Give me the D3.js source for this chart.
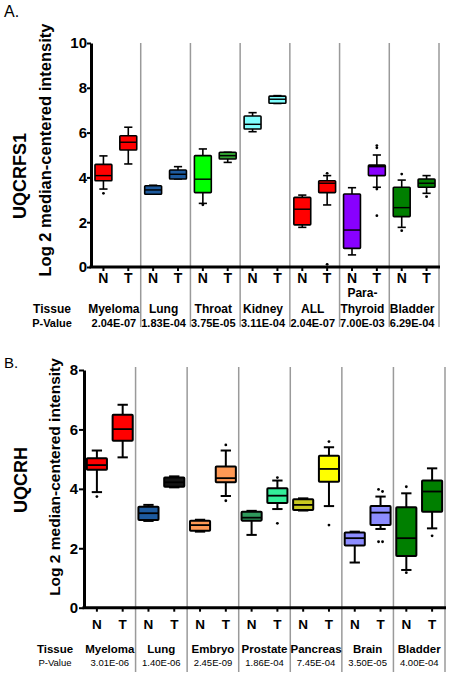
<!DOCTYPE html>
<html><head><meta charset="utf-8">
<script src="https://cdn.jsdelivr.net/npm/d3@7"></script>
<style>
html,body{margin:0;padding:0;background:#fff;}
svg{display:block;font-family:"Liberation Sans",Arial,sans-serif;}
</style></head>
<body><svg id="c" width="450" height="677"></svg>
<script>
// ---------- Panel A data (UQCRFS1) ----------
const tissuesA = ["Myeloma","Lung","Throat","Kidney","ALL","Para-|Thyroid","Bladder"];
const pvaluesA = ["2.04E-07","1.83E-04","3.75E-05","3.11E-04","2.04E-07","7.00E-03","6.29E-04"];
const groupsA  = ["N","T","N","T","N","T","N","T","N","T","N","T","N","T"];
const lowA  = [3.48,4.60,3.27,3.93,2.84,4.67,6.04,7.30,1.77,2.77,0.54,3.56,1.77,3.29];
const q1A   = [3.85,5.22,3.25,3.93,3.32,4.82,6.16,7.31,1.88,3.32,0.83,4.08,2.25,3.56];
const medA  = [4.08,5.57,3.44,4.14,3.92,4.97,6.37,7.49,2.58,3.74,1.65,4.48,2.65,3.74];
const q3A   = [4.58,5.86,3.63,4.33,4.97,5.12,6.74,7.63,3.11,3.85,3.26,4.55,3.56,3.93];
const highA = [4.96,6.24,3.65,4.48,5.27,5.12,6.89,7.65,3.21,4.08,3.54,5.00,3.88,4.08];
const outIdxA = [0,4,9,9,11,11,11,11,12,12,13];
const outValA = [3.29,2.78,4.18,0.12,5.42,5.32,3.48,2.29,4.15,1.62,3.14];
const yTicksA = [0,2,4,6,8,10];
const colorsA = ["#ff0000","#ff0000","#1d5a9e","#1d5a9e","#00ff00","#30a030","#80ffff","#80ffff",
                 "#ff0000","#ff0000","#8800ff","#8800ff","#007f00","#007f00"];

// ---------- Panel B data (UQCRH) ----------
const tissuesB = ["Myeloma","Lung","Embryo","Prostate","Pancreas","Brain","Bladder"];
const pvaluesB = ["3.01E-06","1.40E-06","2.45E-09","1.86E-04","7.45E-04","3.50E-05","4.00E-04"];
const groupsB  = ["N","T","N","T","N","T","N","T","N","T","N","T","N","T"];
const lowB  = [3.89,5.06,2.92,4.05,2.56,3.76,2.45,3.32,3.27,3.42,1.52,2.65,1.27,2.67];
const q1B   = [4.64,5.62,2.95,4.07,2.59,4.22,2.93,3.52,3.29,4.24,2.09,2.78,1.74,3.23];
const medB  = [4.80,6.01,3.18,4.22,2.78,4.36,3.03,3.77,3.46,4.67,2.34,3.20,2.34,3.91];
const q3B   = [5.03,6.49,3.40,4.38,2.93,4.75,3.23,4.02,3.65,5.11,2.53,3.42,3.38,4.28];
const highB = [5.29,6.83,3.46,4.42,2.96,5.29,3.26,4.28,3.68,5.40,2.56,3.74,3.85,4.69];
const outIdxB = [0,5,5,7,7,9,9,11,11,11,11,12,12,13];
const outValB = [3.74,5.48,3.60,4.38,2.84,5.59,2.78,3.98,3.91,2.22,2.22,4.07,1.18,2.42];
const yTicksB = [0,2,4,6,8];
const colorsB = ["#ff0000","#ff0000","#1d5a9e","#151515","#ff9955","#ff9955","#2f9a5c","#33ee99",
                 "#c8c820","#ffff00","#8c8cff","#8c8cff","#007f00","#007f00"];

const svg = d3.select("#c");
svg.append("rect").attr("width",450).attr("height",677).attr("fill","#fff");

function drawPanel(p){
  const n = p.groups.length;
  const x = d3.scaleBand().domain(d3.range(n)).range([p.x0, p.x1]).paddingInner(0).paddingOuter(0);
  const y = d3.scaleLinear().domain([0, d3.max(p.ticks)]).range([p.yBottom, p.yTop]);
  const g = svg.append("g");
  const step = x.step(), bw = x.bandwidth();
  const cx = i => x(i) + bw/2;

  // separators
  const nGroups = p.tissues.length;
  for (let k = 1; k <= nGroups; k++) {
    const sx = p.x0 + k*2*step;
    g.append("line").attr("x1",sx).attr("x2",sx).attr("y1",p.sepTop).attr("y2",p.sepBottom)
      .attr("stroke","#9a9a9a").attr("stroke-width",1.5);
  }

  // boxes
  const boxW = step*p.boxFrac, capW = step*p.capFrac;
  d3.range(n).forEach(i => {
    const c = cx(i);
    const bg = g.append("g");
    bg.append("line").attr("x1",c).attr("x2",c).attr("y1",y(p.low[i])).attr("y2",y(p.high[i]))
      .attr("stroke","#000").attr("stroke-width",p.sw);
    [p.low[i], p.high[i]].forEach(v => {
      bg.append("line").attr("x1",c-capW/2).attr("x2",c+capW/2).attr("y1",y(v)).attr("y2",y(v))
        .attr("stroke","#000").attr("stroke-width",p.sw);
    });
    bg.append("rect").attr("x",c-boxW/2).attr("width",boxW)
      .attr("y",y(p.q3[i])).attr("height",Math.max(0.5,y(p.q1[i])-y(p.q3[i])))
      .attr("fill",p.colors[i]).attr("stroke","#000").attr("stroke-width",p.sw).attr("rx",0.8);
    bg.append("line").attr("x1",c-boxW/2).attr("x2",c+boxW/2).attr("y1",y(p.med[i])).attr("y2",y(p.med[i]))
      .attr("stroke","#000").attr("stroke-width",p.sw*0.9);
  });

  // outliers with small dodge for near-identical values
  p.outIdx.forEach((idx, j) => {
    const v = p.outVal[j];
    const cluster = [];
    p.outIdx.forEach((idx2, k) => { if (idx2 === idx && Math.abs(p.outVal[k]-v) < 0.09) cluster.push(k); });
    const rank = cluster.indexOf(j);
    const dx = (rank - (cluster.length-1)/2) * 4;
    g.append("circle").attr("cx",cx(idx)+dx).attr("cy",y(v)).attr("r",1.4).attr("fill","#000");
  });

  // y axis
  const ya = g.append("g").attr("transform",`translate(${p.x0},0)`)
    .call(d3.axisLeft(y).tickValues(p.ticks).tickFormat(d3.format("d")).tickSize(p.tickLen).tickSizeOuter(0).tickPadding(p.tickPad));
  ya.select(".domain").attr("stroke","#000").attr("stroke-width",3);
  ya.selectAll(".tick line").attr("stroke","#000").attr("stroke-width",2);
  ya.selectAll(".tick text").attr("font-size",p.tickFont).attr("font-weight","bold").attr("fill","#000")
    .attr("font-family","'Liberation Sans',Arial,sans-serif");

  // x axis
  const xa = g.append("g").attr("transform",`translate(0,${p.yBottom})`)
    .call(d3.axisBottom(x).tickSize(4).tickSizeOuter(0).tickFormat(""));
  xa.select(".domain").attr("stroke","#000").attr("stroke-width",3)
    .attr("d",`M${p.x0-1.5},0H${p.x1+1}`);
  xa.selectAll(".tick line").attr("stroke","#000").attr("stroke-width",2);

  // N / T labels
  d3.range(n).forEach(i => {
    g.append("text").attr("x",cx(i)).attr("y",p.ntY).attr("text-anchor","middle")
      .attr("font-size",p.ntFont).attr("font-weight","bold").text(p.groups[i]);
  });

  // tissue & p-value rows
  g.append("text").attr("x",p.rowLabelX).attr("y",p.tissueY).attr("text-anchor","middle")
    .attr("font-size",p.tissueFont).attr("font-weight","bold").text("Tissue");
  g.append("text").attr("x",p.rowLabelX).attr("y",p.pvalY).attr("text-anchor","middle")
    .attr("font-size",p.pvalFont).attr("font-weight",p.pvalWeight).text("P-Value");
  p.tissues.forEach((t, k) => {
    const gc = p.x0 + (2*k+1)*step - p.labelShift;
    const parts = t.split("|");
    if (parts.length === 2) {
      g.append("text").attr("x",gc).attr("y",p.tissueY-16).attr("text-anchor","middle")
        .attr("font-size",p.tissueFont).attr("font-weight","bold").text(parts[0]);
      g.append("text").attr("x",gc).attr("y",p.tissueY).attr("text-anchor","middle")
        .attr("font-size",p.tissueFont).attr("font-weight","bold").text(parts[1]);
    } else {
      g.append("text").attr("x",gc).attr("y",p.tissueY).attr("text-anchor","middle")
        .attr("font-size",p.tissueFont).attr("font-weight","bold").text(t);
    }
    g.append("text").attr("x",gc).attr("y",p.pvalY).attr("text-anchor","middle")
      .attr("font-size",p.pvalFont).attr("font-weight",p.pvalWeight).text(p.pvalues[k]);
  });

  // titles
  g.append("text").attr("transform",`translate(${p.yTitleX},${p.yTitleY}) rotate(-90)`)
    .attr("text-anchor","middle").attr("font-size",p.yTitleFont).attr("font-weight","bold")
    .text("Log 2 median-centered intensity");
  g.append("text").attr("transform",`translate(${p.geneX},${p.geneY}) rotate(-90)`)
    .attr("text-anchor","middle").attr("font-size",18).attr("font-weight","bold").text(p.gene);
  g.append("text").attr("x",4).attr("y",p.letterY).attr("font-size",p.letterFont).text(p.letter);
}

drawPanel({
  groups: groupsA, tissues: tissuesA, pvalues: pvaluesA,
  low: lowA, q1: q1A, med: medA, q3: q3A, high: highA,
  outIdx: outIdxA, outVal: outValA, ticks: yTicksA, colors: colorsA,
  x0: 91, x1: 439, yTop: 43, yBottom: 267, sepTop: 43, sepBottom: 327,
  boxFrac: 0.68, capFrac: 0.33, sw: 1.6, tickLen: 4, tickPad: 0, tickFont: 15,
  ntY: 283, ntFont: 14, tissueY: 313, pvalY: 326.5, tissueFont: 12, pvalFont: 11, pvalWeight: "bold",
  rowLabelX: 52, labelShift: 2,
  yTitleX: 51, yTitleY: 150, yTitleFont: 16.5, gene: "UQCRFS1", geneX: 26, geneY: 176,
  letter: "A.", letterY: 17, letterFont: 16
});

drawPanel({
  groups: groupsB, tissues: tissuesB, pvalues: pvaluesB,
  low: lowB, q1: q1B, med: medB, q3: q3B, high: highB,
  outIdx: outIdxB, outVal: outValB, ticks: yTicksB, colors: colorsB,
  x0: 84, x1: 445, yTop: 370, yBottom: 607.7, sepTop: 367, sepBottom: 672,
  boxFrac: 0.78, capFrac: 0.4, sw: 2, tickLen: 5, tickPad: 1, tickFont: 15,
  ntY: 629, ntFont: 13.5, tissueY: 653, pvalY: 665.5, tissueFont: 11.5, pvalFont: 9.5, pvalWeight: "normal",
  rowLabelX: 55, labelShift: 0,
  yTitleX: 60, yTitleY: 477, yTitleFont: 15.5, gene: "UQCRH", geneX: 27, geneY: 480,
  letter: "B.", letterY: 368, letterFont: 15
});
</script></body></html>
